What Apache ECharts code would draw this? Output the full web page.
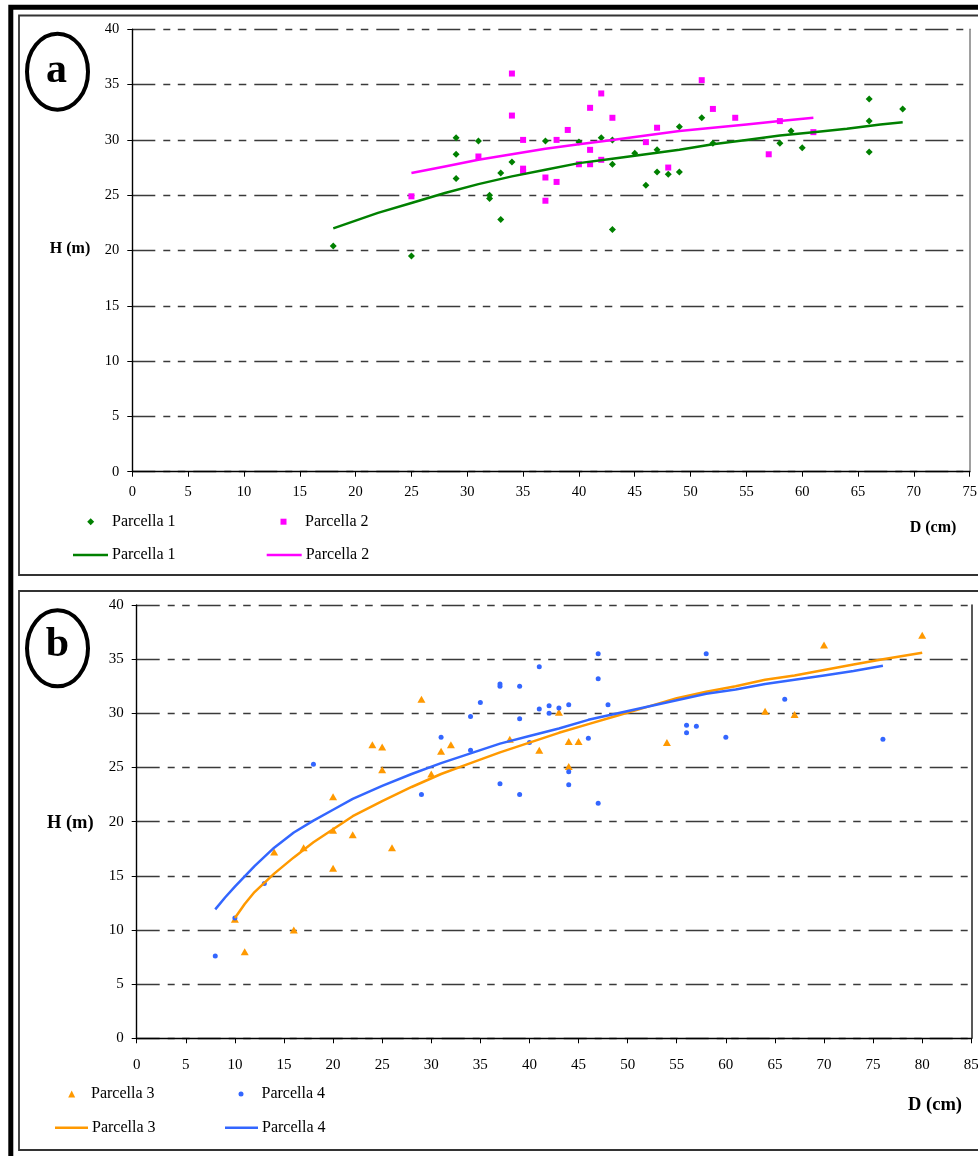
<!DOCTYPE html>
<html>
<head>
<meta charset="utf-8">
<title>Relazione ipsometrica H-D per parcella</title>
<script src="https://cdn.jsdelivr.net/npm/echarts@6/dist/echarts.min.js"></script>
<style>
  html, body { margin: 0; padding: 0; background: #fff; }
  #main { width: 978px; height: 1156px; }
</style>
</head>
<body>
<div id="main"></div>
<script>
// ---- Panel a: Parcella 1 and Parcella 2 ----
const p1D = [18, 25, 29, 29, 29, 31, 32, 32, 33, 33, 34, 37, 40, 42, 43, 43, 43, 45, 46, 47, 47, 48, 49, 49, 51, 52, 58, 59, 60, 66, 66, 66, 69];
const p1H = [20.4, 19.5, 30.2, 28.7, 26.5, 29.9, 25.0, 24.7, 27.0, 22.8, 28.0, 29.9, 29.8, 30.2, 30.0, 27.8, 21.9, 28.8, 25.9, 29.1, 27.1, 26.9, 31.2, 27.1, 32.0, 29.7, 29.7, 30.8, 29.3, 33.7, 31.7, 28.9, 32.8];

const p2D = [25, 31, 34, 34, 35, 35, 35, 37, 37, 38, 38, 39, 40, 41, 41, 41, 42, 42, 43, 46, 47, 48, 51, 52, 54, 57, 58, 61];
const p2H = [24.9, 28.5, 36.0, 32.2, 30.0, 27.4, 27.1, 26.6, 24.5, 30.0, 26.2, 30.9, 27.8, 32.9, 29.1, 27.8, 34.2, 28.2, 32.0, 29.8, 31.1, 27.5, 35.4, 32.8, 32.0, 28.7, 31.7, 30.7];

// fitted curves (panel a)
const c1D = [18, 20, 22, 25, 28, 31, 34, 37, 40, 43, 46, 49, 52, 55, 58, 61, 64, 67, 69];
const c1H = [22.0, 22.7, 23.4, 24.3, 25.2, 26.0, 26.7, 27.3, 27.9, 28.3, 28.7, 29.1, 29.6, 30.0, 30.4, 30.7, 31.0, 31.4, 31.6];
const c2D = [25, 28, 31, 34, 37, 40, 43, 46, 49, 52, 55, 58, 61];
const c2H = [27.0, 27.6, 28.2, 28.7, 29.2, 29.6, 30.0, 30.4, 30.8, 31.1, 31.4, 31.7, 32.0];

// ---- Panel b: Parcella 3 and Parcella 4 ----
const p3D = [10, 11, 14, 16, 17, 20, 20, 20, 22, 24, 25, 25, 26, 29, 30, 31, 32, 38, 41, 43, 44, 44, 45, 54, 64, 67, 70, 80];
const p3H = [11.0, 8.0, 17.2, 10.0, 17.6, 22.3, 19.2, 15.7, 18.8, 27.1, 26.9, 24.8, 17.6, 31.3, 24.4, 26.5, 27.1, 27.6, 26.6, 30.1, 27.4, 25.1, 27.4, 27.3, 30.2, 29.9, 36.3, 37.2];

const p4D = [8, 10, 13, 18, 29, 31, 34, 34, 35, 37, 37, 37, 39, 39, 39, 40, 41, 41, 42, 42, 43, 44, 44, 44, 46, 47, 47, 47, 48, 56, 56, 57, 58, 60, 66, 76];
const p4H = [7.6, 11.1, 14.3, 25.3, 22.5, 27.8, 29.7, 26.6, 31.0, 32.7, 32.5, 23.5, 32.5, 29.5, 22.5, 27.3, 34.3, 30.4, 30.7, 30.0, 30.5, 30.8, 24.6, 23.4, 27.7, 35.5, 33.2, 21.7, 30.8, 28.9, 28.2, 28.8, 35.5, 27.8, 31.3, 27.6];

// fitted curves (panel b)
const c3D = [10, 11, 12, 14, 16, 18, 20, 22, 25, 28, 31, 34, 37, 40, 43, 46, 49, 52, 55, 58, 61, 64, 67, 70, 73, 76, 80];
const c3H = [11.1, 12.4, 13.5, 15.2, 16.7, 18.1, 19.3, 20.5, 21.9, 23.2, 24.4, 25.4, 26.4, 27.3, 28.2, 29.0, 29.8, 30.6, 31.4, 32.0, 32.5, 33.1, 33.5, 34.0, 34.5, 35.0, 35.6];
const c4D = [8, 9, 10, 12, 14, 16, 18, 20, 22, 25, 28, 31, 34, 37, 40, 43, 46, 49, 52, 55, 58, 61, 64, 67, 70, 73, 76];
const c4H = [11.9, 13.0, 14.0, 15.9, 17.6, 19.0, 20.1, 21.1, 22.1, 23.3, 24.4, 25.4, 26.3, 27.2, 27.9, 28.6, 29.4, 30.0, 30.6, 31.2, 31.8, 32.2, 32.7, 33.1, 33.5, 33.9, 34.4];

// axis ticks
const yTicks = { min: 0, max: 40, interval: 5 };
const xTicksA = { min: 0, max: 75, interval: 5 };
const xTicksB = { min: 0, max: 85, interval: 5 };

const legendLabels = {
  s1: 'Parcella 1', s2: 'Parcella 2', l1: 'Parcella 1', l2: 'Parcella 2',
  s3: 'Parcella 3', s4: 'Parcella 4', l3: 'Parcella 3', l4: 'Parcella 4'
};

const pairs = (xs, ys) => xs.map((x, i) => [x, ys[i]]);

const SERIF = "'Liberation Serif', 'Times New Roman', serif";
const GREEN = '#008000', MAGENTA = '#FF00FF', ORANGE = '#FF9900', BLUE = '#3366FF';
const GRID_DASH = [23, 8, 7, 7.5, 7.5, 8];

function xAxisDef(gridIndex, ticks, fontSize, margin) {
  return {
    type: 'value', gridIndex, min: ticks.min, max: ticks.max, interval: ticks.interval,
    axisLine: { show: true, lineStyle: { color: '#000', width: 1.4 } },
    axisTick: { show: true, inside: false, length: 5, lineStyle: { color: '#000', width: 1 } },
    axisLabel: { color: '#000', fontFamily: SERIF, fontSize, margin, showMaxLabel: true, showMinLabel: true },
    splitLine: { show: false }
  };
}
function yAxisDef(gridIndex, fontSize) {
  return {
    type: 'value', gridIndex, min: yTicks.min, max: yTicks.max, interval: yTicks.interval,
    axisLine: { show: true, lineStyle: { color: '#000', width: 1.4 } },
    axisTick: { show: true, inside: false, length: 5, lineStyle: { color: '#000', width: 1 } },
    axisLabel: { color: '#000', fontFamily: SERIF, fontSize, margin: 13 },
    splitLine: { show: true, lineStyle: { color: '#3a3a3a', width: 1.3, type: GRID_DASH } }
  };
}
function rightBorder(gridIndex, color) {
  return {
    type: 'value', gridIndex, position: 'right', min: yTicks.min, max: yTicks.max, interval: yTicks.interval,
    axisLine: { show: true, onZero: false, lineStyle: { color, width: 1.5 } },
    axisTick: { show: false }, axisLabel: { show: false }, splitLine: { show: false }
  };
}
// marker entry: small symbol centred at cx, label starting at textX
function markerLegend(name, icon, size, cx, cy, textX) {
  const left = cx - size / 2;
  const pad = textX - (left + size + 5);
  return {
    data: [name], icon, left, top: cy - 10, padding: 0, itemWidth: size, itemHeight: size,
    formatter: (n) => legendLabels[n],
    textStyle: { color: '#000', fontFamily: SERIF, fontSize: 16, lineHeight: 20, padding: [0, 0, 0, pad] }
  };
}
// line entry: flat bar from x0 over width w, label after it
function lineLegend(name, x0, w, cy) {
  return {
    data: [name], icon: 'rect', left: x0, top: cy - 10, padding: 0, itemWidth: w, itemHeight: 2.5,
    formatter: (n) => legendLabels[n],
    textStyle: { color: '#000', fontFamily: SERIF, fontSize: 16, lineHeight: 20, padding: [0, 0, 0, -1] }
  };
}
function titleText(text, x, y, size) {
  return {
    type: 'text', x, y, z: 10,
    style: { text, fill: '#000', fontFamily: SERIF, fontWeight: 'bold', fontSize: size, align: 'center', verticalAlign: 'middle' }
  };
}

const chart = echarts.init(document.getElementById('main'), null, { renderer: 'canvas' });

chart.setOption({
  animation: false,
  backgroundColor: '#fff',
  grid: [
    { left: 132.3, top: 29.3, width: 837.4, height: 442.4, outerBoundsMode: 'none', containLabel: false },
    { left: 136.7, top: 605, width: 834.6, height: 433.3, outerBoundsMode: 'none', containLabel: false }
  ],
  xAxis: [
    xAxisDef(0, xTicksA, 14.5, 13),
    xAxisDef(1, xTicksB, 15, 19)
  ],
  yAxis: [
    yAxisDef(0, 14.5),
    rightBorder(0, '#808080'),
    yAxisDef(1, 15),
    rightBorder(1, '#222')
  ],
  legend: [
    markerLegend('s1', 'diamond', 7, 90.7, 521.7, 112),
    markerLegend('s2', 'rect', 6, 283.5, 521.7, 305),
    lineLegend('l1', 73, 35, 555),
    lineLegend('l2', 266.7, 35, 555),
    markerLegend('s3', 'triangle', 7, 71.7, 1094, 91),
    markerLegend('s4', 'circle', 5, 241, 1094, 261.5),
    lineLegend('l3', 55, 33, 1127.7),
    lineLegend('l4', 225, 33, 1127.7)
  ],
  series: [
    { name: 's1', type: 'scatter', xAxisIndex: 0, yAxisIndex: 0, symbol: 'diamond', symbolSize: 7,
      itemStyle: { color: GREEN, opacity: 1 }, data: pairs(p1D, p1H) },
    { name: 's2', type: 'scatter', xAxisIndex: 0, yAxisIndex: 0, symbol: 'rect', symbolSize: 6,
      itemStyle: { color: MAGENTA, opacity: 1 }, data: pairs(p2D, p2H) },
    { name: 'l1', type: 'line', xAxisIndex: 0, yAxisIndex: 0, symbol: 'none', smooth: false,
      itemStyle: { color: GREEN }, lineStyle: { color: GREEN, width: 2.5 }, data: pairs(c1D, c1H) },
    { name: 'l2', type: 'line', xAxisIndex: 0, yAxisIndex: 0, symbol: 'none', smooth: false,
      itemStyle: { color: MAGENTA }, lineStyle: { color: MAGENTA, width: 2.5 }, data: pairs(c2D, c2H) },

    { name: 's3', type: 'scatter', xAxisIndex: 1, yAxisIndex: 2, symbol: 'triangle', symbolSize: [8, 7],
      itemStyle: { color: ORANGE, opacity: 1 }, data: pairs(p3D, p3H) },
    { name: 's4', type: 'scatter', xAxisIndex: 1, yAxisIndex: 2, symbol: 'circle', symbolSize: 5,
      itemStyle: { color: BLUE, opacity: 1 }, data: pairs(p4D, p4H) },
    { name: 'l3', type: 'line', xAxisIndex: 1, yAxisIndex: 2, symbol: 'none', smooth: false,
      itemStyle: { color: ORANGE }, lineStyle: { color: ORANGE, width: 2.5 }, data: pairs(c3D, c3H) },
    { name: 'l4', type: 'line', xAxisIndex: 1, yAxisIndex: 2, symbol: 'none', smooth: false,
      itemStyle: { color: BLUE }, lineStyle: { color: BLUE, width: 2.5 }, data: pairs(c4D, c4H) }
  ],
  graphic: [
    // outer heavy frame and the two panel frames
    { type: 'rect', z: 5, shape: { x: 10.8, y: 7.2, width: 1000, height: 1200 },
      style: { fill: null, stroke: '#000', lineWidth: 5 } },
    { type: 'rect', z: 5, shape: { x: 19, y: 15.5, width: 1000, height: 559.5 },
      style: { fill: null, stroke: '#333', lineWidth: 1.8 } },
    { type: 'rect', z: 5, shape: { x: 19, y: 591, width: 1000, height: 559 },
      style: { fill: null, stroke: '#333', lineWidth: 1.8 } },
    // panel badges
    { type: 'ellipse', z: 5, shape: { cx: 57.5, cy: 71.7, rx: 30.5, ry: 38 },
      style: { fill: '#fff', stroke: '#000', lineWidth: 4 } },
    titleText('a', 56.5, 71, 42),
    { type: 'ellipse', z: 5, shape: { cx: 57.5, cy: 648.3, rx: 30.5, ry: 38 },
      style: { fill: '#fff', stroke: '#000', lineWidth: 4 } },
    titleText('b', 57.5, 645, 42),
    // axis titles
    titleText('H (m)', 70, 249, 16),
    titleText('D (cm)', 933, 528, 16),
    titleText('H (m)', 70.3, 823.3, 18.5),
    titleText('D (cm)', 935, 1105, 18.5)
  ]
});
</script>
</body>
</html>
